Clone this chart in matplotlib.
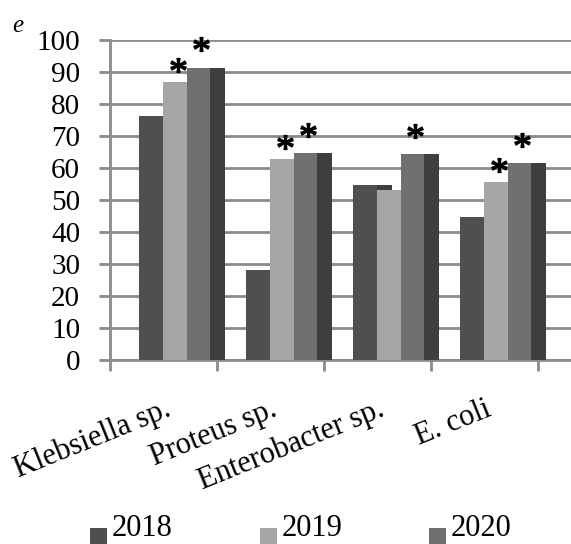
import matplotlib
matplotlib.use("Agg")
import matplotlib.pyplot as plt
from matplotlib.patches import Rectangle
from matplotlib.textpath import TextPath
from matplotlib.font_manager import FontProperties
from matplotlib.path import Path
import numpy as np

categories = ["Klebsiella sp.", "Proteus sp.", "Enterobacter sp.", "E. coli"]
years = ["2018", "2019", "2020"]
values_2018 = [76.3, 28.1, 54.6, 44.8]
values_2019 = [86.8, 62.8, 53.1, 55.7]
values_2020 = [91.4, 64.8, 64.3, 61.7]
stars_2019 = [True, True, False, True]
stars_2020 = [True, True, True, True]
yticks = [0, 10, 20, 30, 40, 50, 60, 70, 80, 90, 100]

series = [values_2018, values_2019, values_2020]
stars = [None, stars_2019, stars_2020]
star_gap = [0, 5.3, 7.2]   # vertical gap above bar (data units)
face_colors = ["#4f4f4f", "#a6a6a6", "#707070"]
side_color = "#3e3e3e"
grid_color = "#8a8a8a"

plt.rcParams['font.family'] = ['Liberation Serif', 'DejaVu Serif']

# asterisk marker built from the serif font glyph, centred on its ink box
tp = TextPath((0, 0), "*", size=1, prop=FontProperties(family='Liberation Serif'))
ext = tp.get_extents()
cx, cy = (ext.x0 + ext.x1) / 2, (ext.y0 + ext.y1) / 2
verts = tp.vertices - np.array([cx, cy])
codes = np.array(tp.codes)
verts[codes == Path.CLOSEPOLY] = 0.0
verts[codes == Path.STOP] = 0.0
star_path = Path(verts, codes)

fig = plt.figure(figsize=(5.71, 5.44), dpi=100)
ax = fig.add_axes([110/571, 1-360/544, 1-110/571, 320/544])

face_w = 0.22
side_w = 0.14
start = 0.275
x_base = np.arange(len(categories))
for j, vals in enumerate(series):
    x0 = x_base + start + j*face_w
    ax.bar(x0 + face_w, vals, width=side_w, align='edge', color=side_color,
           edgecolor='none', zorder=2 + 2*j)
    ax.bar(x0, vals, width=face_w, align='edge', color=face_colors[j],
           edgecolor='none', zorder=3 + 2*j)
    if stars[j] is not None:
        for k, (v, s) in enumerate(zip(vals, stars[j])):
            if s:
                ax.plot(x0[k] + face_w*0.5 + 0.03, v + star_gap[j], marker=star_path,
                        markersize=11, color='black', linestyle='none',
                        zorder=20, clip_on=False)

ax.set_xlim(0, (571-110)/107)
ax.set_ylim(0, 100)
ax.set_yticks(yticks)
ax.set_yticklabels([str(t) for t in yticks], fontsize=21)
ax.yaxis.grid(True, color=grid_color, linewidth=2.0, zorder=0)
ax.set_axisbelow(True)

ax.set_xticks(np.arange(len(categories)+1))
ax.set_xticklabels([])
ax.set_xticks(x_base + 0.5, minor=True)
ax.set_xticklabels(categories, minor=True, rotation=22, ha='right',
                   rotation_mode='anchor', fontsize=22)
ax.tick_params(axis='x', which='minor', length=0, pad=25)
ax.tick_params(axis='x', which='major', length=8, width=2, color=grid_color, direction='out')
ax.tick_params(axis='y', length=8, width=2, color=grid_color, direction='out', pad=13.5)

for s in ['top', 'right']:
    ax.spines[s].set_visible(False)
for s in ['left', 'bottom']:
    ax.spines[s].set_color(grid_color)
    ax.spines[s].set_linewidth(2.0)

fig.text(12/571, 1-32/544, "e", fontsize=18, style='italic', va='baseline')

# legend (partially cut by the bottom edge, as in the reference)
legend_x = [90, 260, 429]
for lx, lab, col in zip(legend_x, years, face_colors):
    fig.patches.append(Rectangle((lx/571, 1-545/544), 17/571, 17/544,
                                 transform=fig.transFigure, facecolor=col,
                                 edgecolor='none', figure=fig))
    fig.text((lx + 22)/571, 1-536/544, lab, fontsize=22, va='baseline', ha='left')

fig.savefig("out.png", dpi=100)
